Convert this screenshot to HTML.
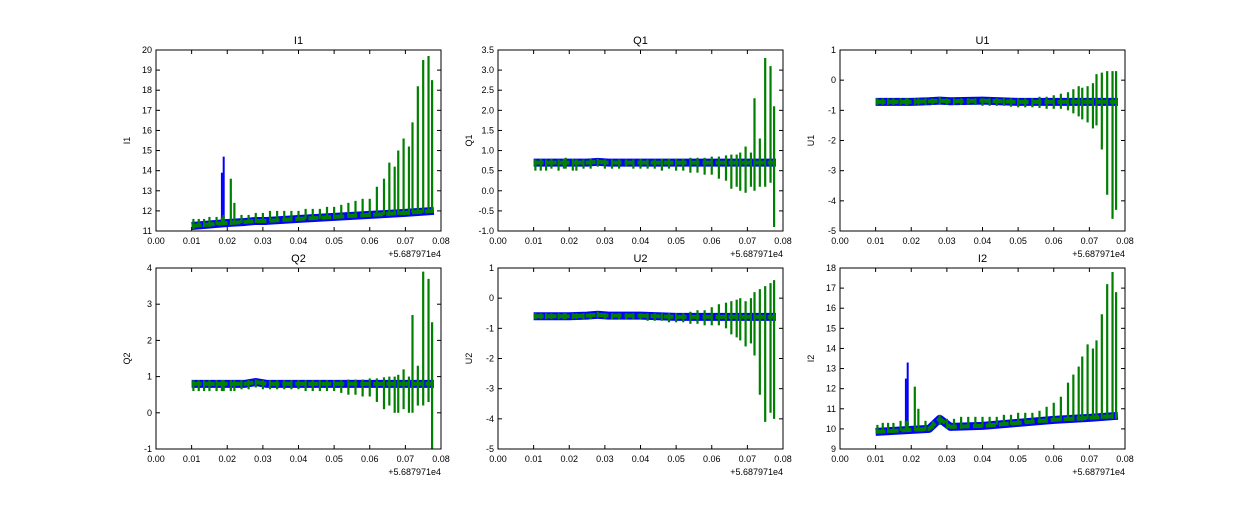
<!DOCTYPE html>
<html><head><meta charset="utf-8"><style>
body{margin:0;background:#fff;}
svg text{font-family:"Liberation Sans",sans-serif;fill:#000;}
</style></head><body>
<svg id="fig" width="1250" height="500" xmlns="http://www.w3.org/2000/svg"></svg>
<script>
const xTicks = [0,0.01,0.02,0.03,0.04,0.05,0.06,0.07,0.08];
const spikeX = [0.0105,0.012,0.0135,0.015,0.017,0.0185,0.019,0.021,0.022,0.024,0.026,0.028,0.030,0.032,0.034,0.036,0.038,0.040,0.042,0.044,0.046,0.048,0.050,0.052,0.054,0.056,0.058,0.060,0.062,0.064,0.0655,0.067,0.068,0.0695,0.071,0.072,0.0735,0.075,0.0765,0.0775];
const baseX = [0.01,0.02,0.025,0.028,0.031,0.04,0.05,0.06,0.07,0.078];
const blueSpikeX = [0.0185,0.019];

const titles = ["I1","Q1","U1","Q2","U2","I2"];
const yMins = [11,-1,-5,-1,-5,9];
const yMaxs = [20,3.5,1,4,1,18];
const yTickLists = [
 [11,12,13,14,15,16,17,18,19,20],
 [-1,-0.5,0,0.5,1,1.5,2,2.5,3,3.5],
 [-5,-4,-3,-2,-1,0,1],
 [-1,0,1,2,3,4],
 [-5,-4,-3,-2,-1,0,1],
 [9,10,11,12,13,14,15,16,17,18]];
const yDecimals = [0,1,0,0,0,0];

const baseI1 = [11.25,11.4,11.45,11.5,11.5,11.6,11.7,11.8,11.9,12.0];
const baseQ1 = [0.7,0.7,0.7,0.72,0.7,0.7,0.7,0.7,0.7,0.7];
const baseU1 = [-0.72,-0.72,-0.7,-0.68,-0.7,-0.68,-0.72,-0.72,-0.72,-0.72];
const baseQ2 = [0.8,0.8,0.8,0.85,0.8,0.8,0.8,0.8,0.8,0.8];
const baseU2 = [-0.6,-0.6,-0.58,-0.55,-0.58,-0.58,-0.62,-0.62,-0.62,-0.62];
const baseI2 = [9.85,9.95,10.0,10.5,10.1,10.15,10.3,10.45,10.55,10.65];

const topI1 = [11.6,11.6,11.6,11.7,11.7,11.7,11.8,13.6,12.4,11.8,11.8,11.9,11.9,12.0,12.0,12.0,12.0,12.0,12.1,12.1,12.1,12.2,12.2,12.3,12.4,12.5,12.6,12.6,13.2,13.6,14.4,14.2,15.0,15.6,15.2,16.4,18.2,19.5,19.7,18.5];
const botI1 = [11.1,11.2,11.2,11.2,11.3,11.3,11.3,11.3,11.3,11.4,11.4,11.4,11.5,11.5,11.5,11.5,11.5,11.6,11.6,11.6,11.6,11.6,11.6,11.7,11.7,11.7,11.7,11.7,11.8,11.8,11.8,11.8,11.8,11.8,11.8,11.9,11.9,11.9,11.9,11.9];
const topQ1 = [0.78,0.8,0.78,0.8,0.78,0.8,0.82,0.8,0.78,0.78,0.8,0.8,0.78,0.78,0.78,0.78,0.78,0.8,0.78,0.78,0.8,0.8,0.8,0.8,0.82,0.82,0.82,0.85,0.85,0.88,0.9,0.9,0.95,1.1,0.95,2.3,1.3,3.3,3.1,2.1];
const botQ1 = [0.5,0.5,0.5,0.55,0.5,0.55,0.55,0.5,0.5,0.55,0.55,0.6,0.55,0.55,0.55,0.6,0.55,0.55,0.55,0.55,0.5,0.55,0.5,0.5,0.45,0.45,0.4,0.4,0.3,0.25,0.05,0.1,0.0,-0.05,0.1,0.0,0.1,0.1,0.2,-0.9];
const topU1 = [-0.6,-0.6,-0.6,-0.6,-0.6,-0.6,-0.6,-0.6,-0.6,-0.6,-0.6,-0.55,-0.6,-0.6,-0.6,-0.6,-0.6,-0.6,-0.6,-0.6,-0.6,-0.6,-0.6,-0.6,-0.6,-0.55,-0.55,-0.5,-0.45,-0.4,-0.3,-0.2,-0.25,-0.2,-0.1,0.2,0.25,0.3,0.3,0.3];
const botU1 = [-0.82,-0.82,-0.82,-0.82,-0.82,-0.82,-0.82,-0.82,-0.82,-0.82,-0.82,-0.8,-0.82,-0.82,-0.82,-0.82,-0.82,-0.85,-0.85,-0.85,-0.85,-0.88,-0.9,-0.9,-0.9,-0.92,-0.95,-0.95,-0.95,-1.0,-1.1,-1.2,-1.3,-1.4,-1.6,-1.5,-2.3,-3.8,-4.6,-4.3];
const topQ2 = [0.9,0.9,0.9,0.9,0.9,0.9,0.9,0.9,0.9,0.9,0.9,0.92,0.9,0.9,0.9,0.9,0.9,0.9,0.9,0.9,0.9,0.9,0.9,0.9,0.92,0.92,0.92,0.95,0.95,0.98,1.0,1.0,1.05,1.2,1.0,2.7,1.3,3.9,3.7,2.5];
const botQ2 = [0.6,0.6,0.6,0.6,0.6,0.6,0.6,0.6,0.6,0.65,0.65,0.7,0.65,0.65,0.65,0.65,0.65,0.65,0.6,0.6,0.6,0.6,0.6,0.55,0.5,0.5,0.45,0.45,0.3,0.1,0.2,0.0,0.0,0.1,0.0,0.0,0.2,0.2,0.3,-1.0];
const topU2 = [-0.5,-0.5,-0.5,-0.5,-0.5,-0.5,-0.5,-0.5,-0.5,-0.5,-0.5,-0.45,-0.5,-0.5,-0.5,-0.5,-0.5,-0.5,-0.5,-0.5,-0.5,-0.5,-0.5,-0.5,-0.45,-0.4,-0.4,-0.3,-0.2,-0.15,-0.1,-0.05,0.0,-0.1,0.0,0.2,0.3,0.4,0.5,0.6];
const botU2 = [-0.7,-0.7,-0.7,-0.7,-0.7,-0.7,-0.7,-0.7,-0.7,-0.7,-0.7,-0.65,-0.7,-0.7,-0.7,-0.7,-0.7,-0.7,-0.75,-0.75,-0.75,-0.8,-0.8,-0.8,-0.85,-0.85,-0.9,-0.9,-0.9,-1.0,-1.2,-1.3,-1.4,-1.6,-1.5,-1.9,-3.2,-4.1,-3.8,-4.0];
const topI2 = [10.2,10.3,10.3,10.3,10.4,10.4,10.4,12.1,11.0,10.4,10.4,10.7,10.5,10.5,10.6,10.6,10.6,10.6,10.6,10.6,10.7,10.7,10.8,10.8,10.8,10.9,11.1,11.3,11.6,12.3,12.7,13.1,13.6,14.2,14.0,14.4,15.7,17.2,17.8,16.8];
const botI2 = [9.8,9.8,9.8,9.8,9.9,9.9,9.9,9.9,9.9,9.9,10.0,10.2,10.0,10.0,10.0,10.1,10.1,10.1,10.1,10.2,10.2,10.2,10.2,10.3,10.3,10.3,10.3,10.4,10.4,10.4,10.4,10.4,10.4,10.5,10.5,10.5,10.5,10.5,10.5,10.5];
const blueTopI1 = [13.9,14.7];
const blueTopI2 = [12.5,13.3];

const bases = [baseI1,baseQ1,baseU1,baseQ2,baseU2,baseI2];
const tops = [topI1,topQ1,topU1,topQ2,topU2,topI2];
const bots = [botI1,botQ1,botU1,botQ2,botU2,botI2];
const blueTops = [blueTopI1,null,null,null,null,blueTopI2];

const NS="http://www.w3.org/2000/svg";
const svg=document.getElementById('fig');
function mk(tag,attrs,parent){const e=document.createElementNS(NS,tag);for(const k in attrs)e.setAttribute(k,attrs[k]);(parent||svg).appendChild(e);return e;}
const colX=[156,498,840], rowY=[50,268], W=285, H=181;

for(let p=0;p<6;p++){
  const x0=colX[p%3], y0=rowY[Math.floor(p/3)];
  const g=mk('g',{});
  
  
  const sx=v=>x0+v/0.08*W;
  const sy=v=>y0+H-(v-yMins[p])/(yMaxs[p]-yMins[p])*H;
  const clip=mk('clipPath',{id:'c'+p},g);mk('rect',{x:x0,y:y0,width:W,height:H},clip);
  const data=mk('g',{'clip-path':'url(#c'+p+')'},g);
  const bpts=bases[p].map((v,i)=>sx(baseX[i])+','+sy(v)).join(' ');
  const band=mk('polyline',{points:bpts,fill:'none',stroke:'#0000ff','stroke-width':8,'stroke-linejoin':'round'},data);
  
  
  if(blueTops[p]){blueTops[p].forEach((v,i)=>{
    const l=mk('line',{x1:sx(blueSpikeX[i]),x2:sx(blueSpikeX[i]),y1:sy(bases[p][1]),y2:sy(v),stroke:'#0000ff','stroke-width':2},data);
    
    
  });}
  const gband=mk('polyline',{points:bpts,fill:'none',stroke:'#008000','stroke-width':4,'stroke-dasharray':'10 3'},data);
  
  
  spikeX.forEach((xv,i)=>{
    const l=mk('line',{x1:sx(xv),x2:sx(xv),y1:sy(bots[p][i]),y2:sy(tops[p][i]),stroke:'#008000','stroke-width':2.2},data);
    
    
  });
  const fr=mk('rect',{x:x0,y:y0,width:W,height:H,fill:'none',stroke:'#000','stroke-width':1},g);
  
  
  xTicks.forEach(t=>{
    const X=sx(t);
    mk('line',{x1:X,x2:X,y1:y0+H,y2:y0+H-4,stroke:'#000'},g);
    mk('line',{x1:X,x2:X,y1:y0,y2:y0+4,stroke:'#000'},g);
    const tx=mk('text',{x:X,y:y0+H+13,'font-size':9,'text-anchor':'middle'},g);tx.textContent=t.toFixed(2);
    
    
  });
  yTickLists[p].forEach(t=>{
    const Y=sy(t);
    mk('line',{x1:x0,x2:x0+4,y1:Y,y2:Y,stroke:'#000'},g);
    mk('line',{x1:x0+W,x2:x0+W-4,y1:Y,y2:Y,stroke:'#000'},g);
    const tx=mk('text',{x:x0-4,y:Y+3,'font-size':9,'text-anchor':'end'},g);tx.textContent=t.toFixed(yDecimals[p]);
    
    
  });
  const off=mk('text',{x:x0+W,y:y0+H+26,'font-size':9,'text-anchor':'end'},g);off.textContent='+5.687971e4';
  
  
  const ti=mk('text',{x:x0+W/2,y:y0-6,'font-size':11,'text-anchor':'middle'},g);ti.textContent=titles[p];
  
  
  const yl=mk('text',{x:0,y:0,'font-size':9,'text-anchor':'middle',transform:`translate(${x0-26},${y0+H/2}) rotate(-90)`},g);yl.textContent=titles[p];
  
  
}
</script>
</body></html>
